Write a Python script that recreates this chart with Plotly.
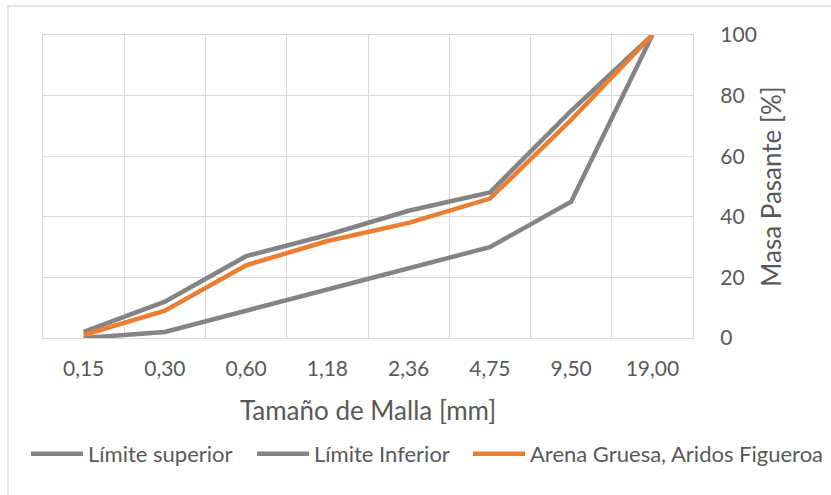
import plotly.graph_objects as go

# Tamices (mm) y porcentajes que pasan
tamices = ["0,15", "0,30", "0,60", "1,18", "2,36", "4,75", "9,50", "19,00"]
limite_superior = [2, 12, 27, 34, 42, 48, 75, 100]
limite_inferior = [0, 2, 9, 16, 23, 30, 45, 100]
arena_gruesa = [1, 9, 24, 32, 38, 46, 72, 100]

GRIS = "#848484"
NARANJA = "#ED7D31"
TEXTO = "#595959"
REJILLA = "#D9D9D9"
FUENTE = "Lato, 'Open Sans', sans-serif"

W, H = 831, 495
L, R, T, B = 43, 138, 35, 157
pw, ph = W - L - R, H - T - B


def px_x(p):
    return (p - L) / pw


def px_y(p):
    return 1 - (p - T) / ph


fig = go.Figure()
fig.add_trace(go.Scatter(x=tamices, y=limite_superior, name="Límite superior",
                         mode="lines", line=dict(color=GRIS, width=4.5), legend="legend"))
fig.add_trace(go.Scatter(x=tamices, y=limite_inferior, name="Límite Inferior",
                         mode="lines", line=dict(color=GRIS, width=4.5), legend="legend2"))
fig.add_trace(go.Scatter(x=tamices, y=arena_gruesa, name="Arena Gruesa, Aridos Figueroa",
                         mode="lines", line=dict(color=NARANJA, width=4.5), legend="legend3"))

# Borde exterior del área del gráfico
fig.add_shape(type="rect", xref="paper", yref="paper",
              x0=px_x(8), x1=1.4, y0=-0.8, y1=px_y(6),
              line=dict(color=REJILLA, width=1.3), fillcolor="rgba(0,0,0,0)", layer="below")

# Una leyenda por serie, alineadas en una fila bajo el título del eje X
leyenda_base = dict(orientation="h", y=px_y(433), xanchor="left", yanchor="top",
                    font=dict(size=22, color=TEXTO, family=FUENTE), itemwidth=52,
                    bgcolor="rgba(0,0,0,0)")

fig.update_layout(
    width=W, height=H,
    margin=dict(l=L, r=R, t=T, b=B, autoexpand=False),
    paper_bgcolor="white", plot_bgcolor="white",
    font=dict(family=FUENTE, color=TEXTO, size=21),
    showlegend=True,
    legend=dict(x=px_x(26), **leyenda_base),
    legend2=dict(x=px_x(252), **leyenda_base),
    legend3=dict(x=px_x(468), **leyenda_base),
    xaxis=dict(
        type="category", range=[-0.5, len(tamices) - 0.5], automargin=False,
        tickson="boundaries", showgrid=True, gridcolor=REJILLA,
        gridwidth=1.3, showline=True, linecolor=REJILLA, linewidth=1.3, mirror=True,
        ticks="", tickfont=dict(size=21, color=TEXTO), ticklabelstandoff=12,
        title=dict(text="Tamaño de Malla [mm]", font=dict(size=26, color=TEXTO), standoff=22),
        zeroline=False,
    ),
    yaxis=dict(
        side="right", range=[0, 100], dtick=20, showgrid=True, gridcolor=REJILLA,
        automargin=False,
        gridwidth=1.3, showline=True, linecolor=REJILLA, linewidth=1.3, mirror=True,
        ticks="", tickfont=dict(size=21, color=TEXTO), ticklabelstandoff=22,
        title=dict(text="Masa Pasante [%]", font=dict(size=26, color=TEXTO), standoff=6),
        zeroline=False,
    ),
)

fig.write_html("out.html")
